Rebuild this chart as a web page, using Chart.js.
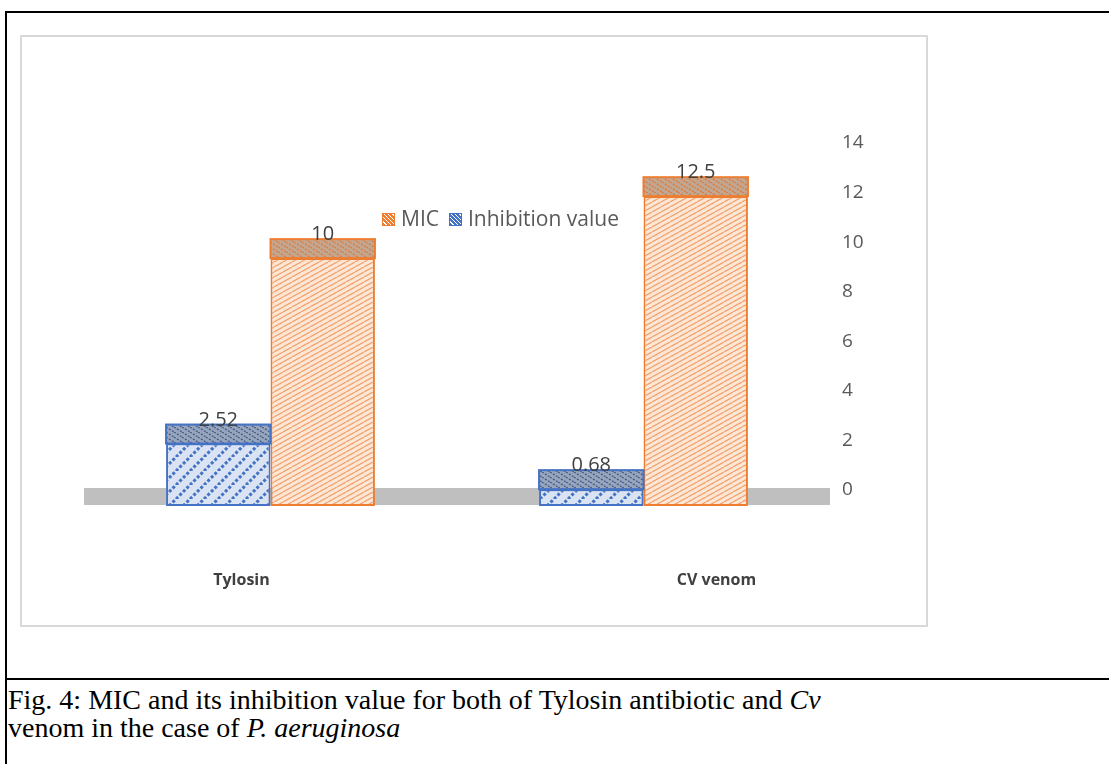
<!DOCTYPE html>
<html>
<head>
<meta charset="utf-8">
<script src="https://cdn.jsdelivr.net/npm/chart.js@4.4.1/dist/chart.umd.min.js"></script>
<style>
  html, body { margin: 0; padding: 0; background: #fff; width: 1109px; height: 764px; overflow: hidden; }
  .line { position: absolute; background: #000; }
  #box { position: absolute; left: 20px; top: 35px; width: 904px; height: 588px; border: 2px solid #d9d9d9; }
  #box canvas { display: block; }
  #legend { position: absolute; left: 382px; top: 204px; font-family: "Open Sans", sans-serif; font-size: 21px; color: #595959; white-space: nowrap; }
  #legend span.sw { display: inline-block; width: 11px; height: 11px; margin-right: 6px; vertical-align: 0px; }
  #legend span.txt { margin-right: 10px; }
  .caption { position: absolute; left: 8px; top: 686px; font-family: "Liberation Serif", "Times New Roman", serif; font-size: 28px; line-height: 28px; color: #000; }
</style>
</head>
<body>
<div class="line" style="left:5px; top:11px; width:1104px; height:2px;"></div>
<div class="line" style="left:5px; top:11px; width:2px; height:753px;"></div>
<div class="line" style="left:5px; top:678px; width:1104px; height:2px;"></div>

<div id="box"><canvas id="chart" width="904" height="588"></canvas></div>
<div id="legend"></div>

<div class="caption">Fig. 4: MIC and its inhibition value for both of Tylosin antibiotic and <i>Cv</i><br>venom in the case of <i>P. aeruginosa</i></div>

<script>
// datos del grafico
const categories = ['Tylosin', 'CV venom'];
const inhibitionValues = [2.52, 0.68];
const micValues = [10, 12.5];
const yMin = 0;
const yMax = 14;
const yStep = 2;

// patrones rayados tipo Excel
function stripes(bg, color, w, h, lw, dash, back) {
  const c = document.createElement('canvas');
  c.width = w; c.height = h;
  const x = c.getContext('2d');
  x.fillStyle = bg;
  x.fillRect(0, 0, w, h);
  x.strokeStyle = color;
  x.lineWidth = lw;
  if (dash) x.setLineDash(dash);
  x.beginPath();
  for (let k = -1; k <= 1; k++) {
    if (back) { x.moveTo(k * w, 0); x.lineTo(k * w + w, h); }
    else { x.moveTo(k * w, h); x.lineTo(k * w + w, 0); }
  }
  x.stroke();
  return x.createPattern(c, 'repeat');
}

const ctx = document.getElementById('chart').getContext('2d');

const blueFront = stripes('#dae3f3', '#4472c4', 14, 14, 3, [3, 2], false);
const orangeFront = stripes('#fce6d6', '#f2a06a', 9, 5, 1.2, null, false);
const blueTop = stripes('#97a4b9', '#3e5c92', 8, 5, 1.3, [2, 1.5], true);
const orangeTop = stripes('#c3a68f', '#d77a40', 8, 5, 1.3, [2, 1.5], true);

const depth = 19;

// piso gris y caras superiores (efecto 3D)
const floorPlugin = {
  id: 'floor',
  beforeDatasetsDraw(chart) {
    const a = chart.chartArea;
    const y0 = chart.scales.y.getPixelForValue(0);
    const c = chart.ctx;
    c.save();
    c.fillStyle = '#bfbfbf';
    c.fillRect(a.left, y0 - depth + 1, a.right - a.left, depth - 2);
    c.restore();
  }
};

const topPlugin = {
  id: 'tops',
  afterDatasetsDraw(chart) {
    const c = chart.ctx;
    c.save();
    chart.data.datasets.forEach((ds, i) => {
      const meta = chart.getDatasetMeta(i);
      meta.data.forEach((bar, j) => {
        const w = bar.width;
        const left = bar.x - w / 2;
        const top = bar.y - depth;
        c.fillStyle = ds.topColor;
        c.fillRect(left, top, w, depth);
        c.strokeStyle = ds.borderColor;
        c.lineWidth = 2;
        c.strokeRect(left, top, w, depth);
        c.fillStyle = '#404040';
        c.font = '20px "Open Sans"';
        c.textAlign = 'center';
        c.textBaseline = 'alphabetic';
        c.fillText(String(ds.data[j]), bar.x, top + 1);
      });
    });
    c.restore();
  }
};

const catLabels = {
  id: 'catLabels',
  afterDraw(chart, args, opts) {
    const c = chart.ctx;
    const xs = chart.scales.x;
    c.save();
    c.fillStyle = '#404040';
    c.font = 'bold 16px "Open Sans"';
    c.textAlign = 'center';
    c.textBaseline = 'middle';
    categories.forEach((name, i) => {
      c.fillText(name, xs.getPixelForValue(i) + opts.shift[i], chart.chartArea.bottom + opts.gap);
    });
    c.restore();
  }
};

const chart = new Chart(ctx, {
  type: 'bar',
  data: {
    labels: categories,
    datasets: [
      {
        label: 'Inhibition value',
        data: inhibitionValues,
        backgroundColor: blueFront,
        borderColor: '#4472c4',
        topColor: blueTop,
        borderWidth: 2,
        borderSkipped: false
      },
      {
        label: 'MIC',
        data: micValues,
        backgroundColor: orangeFront,
        borderColor: '#ed7d31',
        topColor: orangeTop,
        borderWidth: 2,
        borderSkipped: false
      }
    ]
  },
  options: {
    responsive: false,
    animation: false,
    layout: { padding: { left: 62, right: 0, top: 122, bottom: 119 } },
    datasets: { bar: { categoryPercentage: 0.56, barPercentage: 1 } },
    plugins: {
      legend: { display: false },
      tooltip: { enabled: false },
      catLabels: { shift: [-29, 73], gap: 74 }
    },
    scales: {
      x: { display: false },
      y: {
        position: 'right',
        min: yMin,
        max: yMax,
        grid: { display: false, drawTicks: false },
        border: { display: false },
        afterFit(s) { s.width = 96; },
        ticks: {
          stepSize: yStep,
          padding: 12,
          labelOffset: -16,
          color: '#595959',
          font: { family: 'Open Sans', size: 19 }
        }
      }
    }
  },
  plugins: [floorPlugin, topPlugin, catLabels]
});

// leyenda en html (MIC primero)
const legend = document.getElementById('legend');
const legendItems = [
  { text: 'MIC', bg: '#ed7d31' },
  { text: 'Inhibition value', bg: '#4472c4' }
];
legendItems.forEach(item => {
  const sw = document.createElement('span');
  sw.className = 'sw';
  sw.style.background = 'repeating-linear-gradient(45deg, ' + item.bg + ' 0 2px, #ffffff 2px 3px)';
  sw.style.border = '1px solid ' + item.bg;
  const t = document.createElement('span');
  t.className = 'txt';
  t.textContent = item.text;
  legend.appendChild(sw);
  legend.appendChild(t);
});
</script>
</body>
</html>
